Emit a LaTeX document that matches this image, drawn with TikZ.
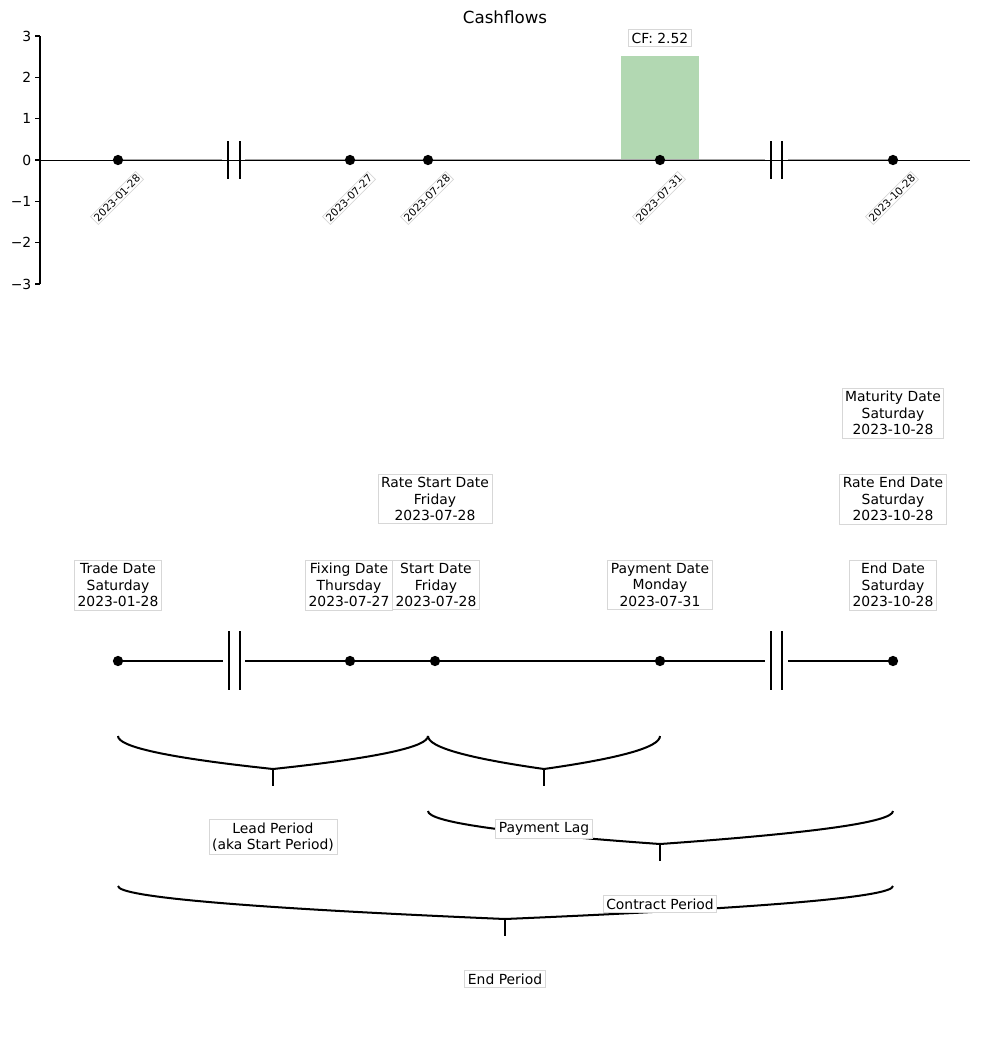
\documentclass[tikz,border=0pt]{standalone}
\usepackage{fontspec}
\setmainfont{DejaVu Sans}
\definecolor{cfgreen}{RGB}{178,216,178}
\definecolor{boxgray}{RGB}{215,215,215}
\begin{document}
\begin{tikzpicture}[x=0.72pt,y=-0.72pt,
  lbl/.style={draw=boxgray, fill=white, line width=0.6pt, inner sep=2.2pt, align=center, font=\fontsize{10}{11.9}\selectfont},
  dlbl/.style={draw=boxgray, fill=white, line width=0.5pt, inner sep=1.2pt, font=\fontsize{7.5}{9}\selectfont, rotate=45},
  ticklbl/.style={anchor=east, inner sep=1pt, font=\fontsize{10}{12}\selectfont},
  dot/.style={circle, fill=black, inner sep=0pt, minimum size=7.4pt},
  bracestyle/.style={line width=1.45pt},
  thinbreak/.style={line width=0.8pt},
  thickbreak/.style={line width=2pt},
  tline/.style={line width=2pt}
]
\useasboundingbox (0,0) rectangle (980,1046);

% ---------- top chart ----------
\node[font=\fontsize{12}{14}\selectfont] (title) at (505,17) {Cashflows};
\fill[cfgreen] (621,56) rectangle (699,160);
\node[lbl] (cf) at (660,38) {CF: 2.52};

\draw[line width=0.8pt] (40,36) -- (40,284);
\foreach \y/\t in {36/3, 77.3/2, 118.7/1, 160/0, 201.3/−1, 242.7/−2, 284/−3}{
  \draw[line width=0.8pt] (40,\y) -- (35,\y);
  \node[ticklbl] at (33,\y) {\t};
}
\draw[black!35, line width=1.6pt] (118,160) -- (222,160);
\draw[black!35, line width=1.6pt] (245,160) -- (765,160);
\draw[black!35, line width=1.6pt] (788,160) -- (893,160);
\draw[line width=0.7pt] (40,160) -- (970,160);
\draw[thinbreak] (228,141) -- (228,179);
\draw[thinbreak] (240,141) -- (240,179);
\draw[thinbreak] (771,141) -- (771,179);
\draw[thinbreak] (782,141) -- (782,179);

\node[dot] (c1) at (118,160) {};
\node[dot] (c2) at (350,160) {};
\node[dot] (c3) at (428,160) {};
\node[dot] (c4) at (660,160) {};
\node[dot] (c5) at (893,160) {};

\node[dlbl] (d1) at (117,198) {2023-01-28};
\node[dlbl] (d2) at (349,198) {2023-07-27};
\node[dlbl] (d3) at (427,198) {2023-07-28};
\node[dlbl] (d4) at (659,198) {2023-07-31};
\node[dlbl] (d5) at (892,198) {2023-10-28};

% ---------- bottom timeline ----------
\draw[tline] (118,661) -- (223,661);
\draw[tline] (245,661) -- (765,661);
\draw[tline] (788,661) -- (893,661);
\draw[thickbreak] (229,631) -- (229,690);
\draw[thickbreak] (240,631) -- (240,690);
\draw[thickbreak] (771,631) -- (771,690);
\draw[thickbreak] (782,631) -- (782,690);

\node[dot] (t1) at (118,661) {};
\node[dot] (t2) at (350,661) {};
\node[dot] (t3) at (435,661) {};
\node[dot] (t4) at (660,661) {};
\node[dot] (t5) at (893,661) {};

\node[lbl] (trade) at (118,585) {Trade Date\\Saturday\\2023-01-28};
\node[lbl] (fixing) at (349,585) {Fixing Date\\Thursday\\2023-07-27};
\node[lbl] (start) at (436,585) {Start Date\\Friday\\2023-07-28};
\node[lbl] (payment) at (660,585) {Payment Date\\Monday\\2023-07-31};
\node[lbl] (enddate) at (893,585) {End Date\\Saturday\\2023-10-28};
\node[lbl] (ratestart) at (435,499) {Rate Start Date\\Friday\\2023-07-28};
\node[lbl] (rateend) at (893,499) {Rate End Date\\Saturday\\2023-10-28};
\node[lbl] (maturity) at (893,413) {Maturity Date\\Saturday\\2023-10-28};

% ---------- braces ----------
\draw[bracestyle] (118,736) .. controls (118,747) and (169.7,758) .. (273,769)
                  .. controls (376.3,758) and (428,747) .. (428,736);
\draw[bracestyle] (273,769) -- (273,786);
\draw[bracestyle] (428,736) .. controls (428,747) and (466.7,758) .. (544,769)
                  .. controls (621.3,758) and (660,747) .. (660,736);
\draw[bracestyle] (544,769) -- (544,786);
\draw[bracestyle] (428,811) .. controls (428,822) and (505,833) .. (660,844)
                  .. controls (815,833) and (893,822) .. (893,811);
\draw[bracestyle] (660,844) -- (660,861);
\draw[bracestyle] (118,886) .. controls (118,897) and (246.7,908) .. (505,919)
                  .. controls (763.3,908) and (893,897) .. (893,886);
\draw[bracestyle] (505,919) -- (505,936);

\node[lbl] (lead) at (273,837) {Lead Period\\(aka Start Period)};
\node[lbl] (lag) at (544,829) {Payment Lag};
\node[lbl] (contract) at (660,904) {Contract Period};
\node[lbl] (endperiod) at (505,979) {End Period};
\end{tikzpicture}
\end{document}
